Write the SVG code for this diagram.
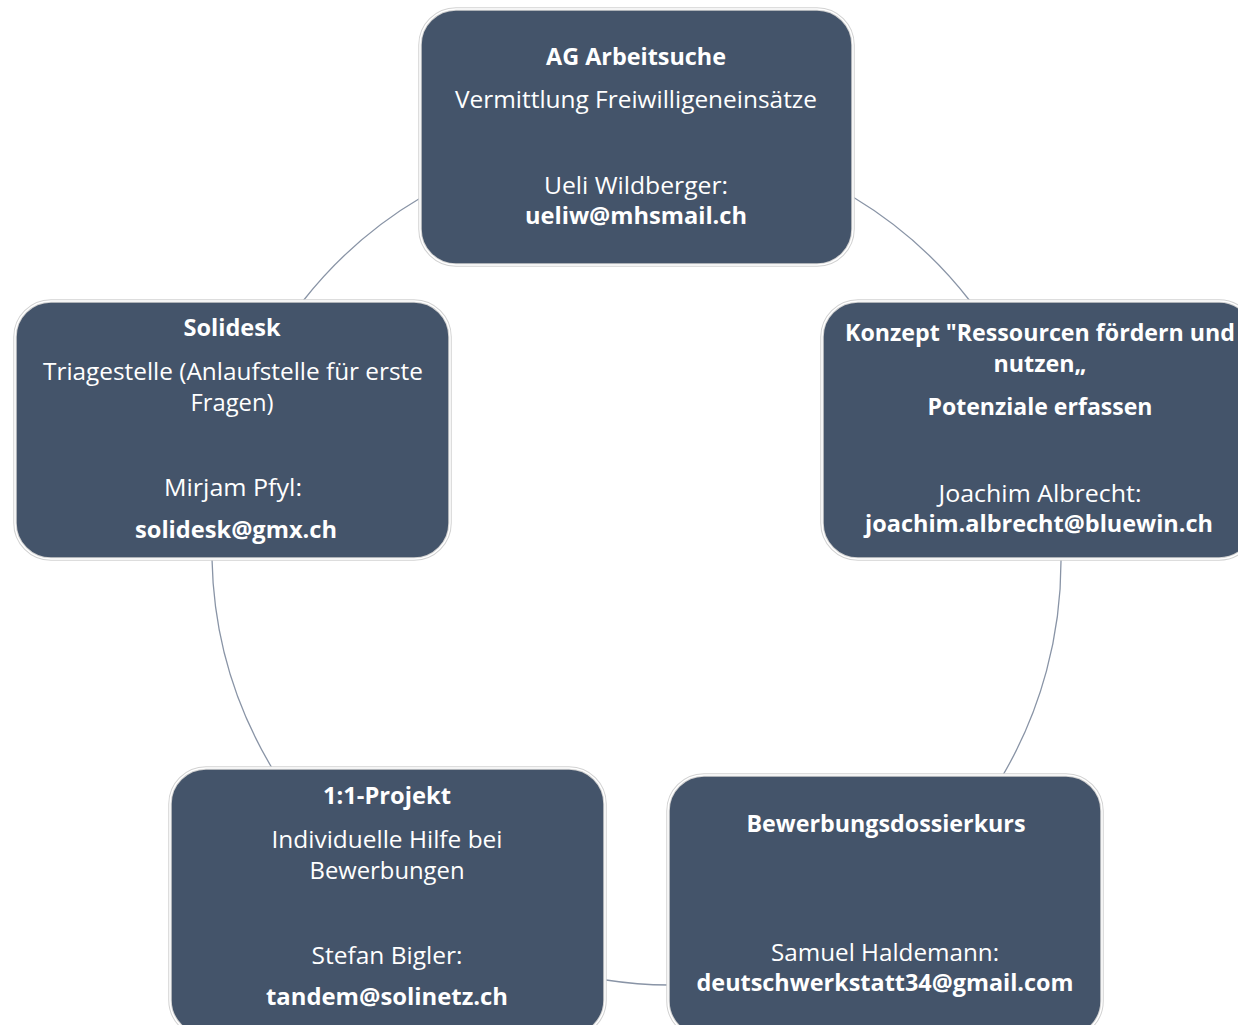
<svg xmlns="http://www.w3.org/2000/svg" width="1238" height="1025" viewBox="0 0 1238 1025">
<style>
.box-o{fill:#44546A;stroke:#d2d2d2;stroke-width:3.5}
.box-i{fill:none;stroke:#ffffff;stroke-width:1.5}
.conn{fill:none;stroke:#8994a6;stroke-width:1.3}
text{font-family:"Open Sans","Noto Sans","DejaVu Sans",sans-serif;fill:#ffffff;font-size:23.5px;text-anchor:middle}
.b{font-weight:bold;font-size:22.5px}
</style>
<rect width="1238" height="1025" fill="#ffffff"/>
<g id="connectors">
<path class="conn" d="M422,197 A424,424 0 0 0 303,301"/>
<path class="conn" d="M853,197 A424,424 0 0 1 970,301"/>
<path class="conn" d="M1061,559 A424,424 0 0 1 1003,775"/>
<path class="conn" d="M606,980 A424,424 0 0 0 669,985"/>
<path class="conn" d="M272,768 A424,424 0 0 1 212,559"/>
</g>
<g id="node-ag">
<rect class="box-o" x="420" y="9" width="433" height="256" rx="36"/>
<rect class="box-i" x="420" y="9" width="433" height="256" rx="36"/>
<text class="b" x="636" y="65" textLength="180" lengthAdjust="spacingAndGlyphs">AG Arbeitsuche</text>
<text x="636" y="108" textLength="362" lengthAdjust="spacingAndGlyphs">Vermittlung Freiwilligeneinsätze</text>
<text x="636" y="194" textLength="184" lengthAdjust="spacingAndGlyphs">Ueli Wildberger:</text>
<text class="b" x="636" y="224" textLength="222" lengthAdjust="spacingAndGlyphs">ueliw@mhsmail.ch</text>
</g>
<g id="node-konzept">
<rect class="box-o" x="822" y="301" width="433" height="258" rx="36"/>
<rect class="box-i" x="822" y="301" width="433" height="258" rx="36"/>
<text class="b" x="1040" y="341" textLength="390" lengthAdjust="spacingAndGlyphs">Konzept "Ressourcen fördern und</text>
<text class="b" x="1040" y="372" textLength="93" lengthAdjust="spacingAndGlyphs">nutzen„</text>
<text class="b" x="1040" y="415" textLength="225" lengthAdjust="spacingAndGlyphs">Potenziale erfassen</text>
<text x="1040" y="502" textLength="203" lengthAdjust="spacingAndGlyphs">Joachim Albrecht:</text>
<text class="b" x="1039" y="532" textLength="348" lengthAdjust="spacingAndGlyphs">joachim.albrecht@bluewin.ch</text>
</g>
<g id="node-bewerbungsdossierkurs">
<rect class="box-o" x="668" y="775" width="434" height="262" rx="36"/>
<rect class="box-i" x="668" y="775" width="434" height="262" rx="36"/>
<text class="b" x="886" y="832" textLength="279" lengthAdjust="spacingAndGlyphs">Bewerbungsdossierkurs</text>
<text x="885" y="961" textLength="228" lengthAdjust="spacingAndGlyphs">Samuel Haldemann:</text>
<text class="b" x="885" y="991" textLength="377" lengthAdjust="spacingAndGlyphs">deutschwerkstatt34@gmail.com</text>
</g>
<g id="node-projekt">
<rect class="box-o" x="170" y="768" width="435" height="268" rx="36"/>
<rect class="box-i" x="170" y="768" width="435" height="268" rx="36"/>
<text class="b" x="387" y="804" textLength="128" lengthAdjust="spacingAndGlyphs">1:1-Projekt</text>
<text x="387" y="848" textLength="231" lengthAdjust="spacingAndGlyphs">Individuelle Hilfe bei</text>
<text x="387" y="879" textLength="155" lengthAdjust="spacingAndGlyphs">Bewerbungen</text>
<text x="387" y="964" textLength="151" lengthAdjust="spacingAndGlyphs">Stefan Bigler:</text>
<text class="b" x="387" y="1005" textLength="242" lengthAdjust="spacingAndGlyphs">tandem@solinetz.ch</text>
</g>
<g id="node-solidesk">
<rect class="box-o" x="15" y="301" width="435" height="258" rx="36"/>
<rect class="box-i" x="15" y="301" width="435" height="258" rx="36"/>
<text class="b" x="232" y="336" textLength="97" lengthAdjust="spacingAndGlyphs">Solidesk</text>
<text x="233" y="380" textLength="380" lengthAdjust="spacingAndGlyphs">Triagestelle (Anlaufstelle für erste</text>
<text x="232" y="411" textLength="83" lengthAdjust="spacingAndGlyphs">Fragen)</text>
<text x="233" y="496" textLength="138" lengthAdjust="spacingAndGlyphs">Mirjam Pfyl:</text>
<text class="b" x="236" y="538" textLength="202" lengthAdjust="spacingAndGlyphs">solidesk@gmx.ch</text>
</g>
</svg>
